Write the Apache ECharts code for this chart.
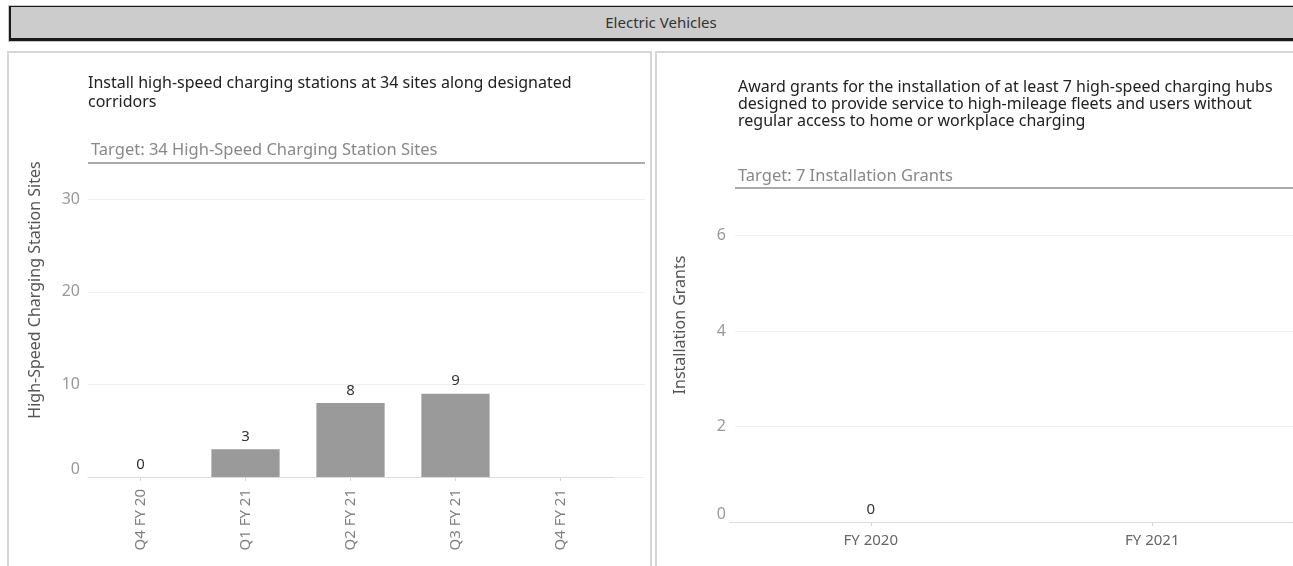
<!DOCTYPE html>
<html>
<head>
    <meta http-equiv="Content-Type" content="text/html; charset=utf-8">
    <title>Electric Vehicles</title>
    <script src="https://cdn.jsdelivr.net/npm/echarts@6/dist/echarts.min.js"></script>
    <style>
        body {margin:0; width:1293px; height:566px; overflow:hidden; background:#fff; font-family:'Noto Sans', sans-serif;}
        .header {position:absolute; left:9px; top:6px; width:1300px; height:31px; background:#cccccc;
                 border:2px solid #1a1a1a; border-top-width:1px; border-bottom-width:3px; box-shadow:0 0 0 1px #c8c8c8;
                 text-align:center; line-height:31px; font-size:15px; color:#333;}
        .panel {position:absolute; top:51px; height:530px; border:2px solid #d6d6d6; box-sizing:border-box;}
        #main {position:absolute; left:0; top:0; width:1293px; height:566px;}
    </style>
</head>
<body>
    <div class="header">Electric Vehicles</div>
    <div class="panel" style="left:7px; width:645px;"></div>
    <div class="panel" style="left:655px; width:700px;"></div>
    <div id="main"></div>
    <script type="text/javascript">
        // left chart data
        var siteQuarters = ['Q4 FY 20', 'Q1 FY 21', 'Q2 FY 21', 'Q3 FY 21', 'Q4 FY 21'];
        var siteCounts = [0, 3, 8, 9, null];
        var siteTarget = 34;

        // right chart data
        var grantYears = ['FY 2020', 'FY 2021'];
        var grantCounts = [0, null];
        var grantTarget = 7;

        var font = 'Noto Sans';
        var myChart = echarts.init(document.getElementById('main'));

        function targetLine(value, text) {
            return {
                silent: true,
                symbol: 'none',
                lineStyle: {color: '#aaaaaa', width: 2, type: 'solid'},
                label: {position: 'insideStartTop', formatter: text, color: '#888', fontSize: 16.5, fontFamily: font, distance: 3},
                data: [{yAxis: value}]
            };
        }

        var dottedAxis = {show: true, lineStyle: {color: '#d8d8d8', type: 'dotted'}};

        var option = {
            animation: false,
            title: [
                {text: 'Install high-speed charging stations at 34 sites along designated\ncorridors',
                 left: 83, top: 69,
                 textStyle: {fontSize: 16, fontWeight: 'normal', color: '#222', fontFamily: font, lineHeight: 19}},
                {text: 'Award grants for the installation of at least 7 high-speed charging hubs\ndesigned to provide service to high-mileage fleets and users without\nregular access to home or workplace charging',
                 left: 733, top: 74,
                 textStyle: {fontSize: 16, fontWeight: 'normal', color: '#222', fontFamily: font, lineHeight: 17}}
            ],
            grid: [
                {left: 88, top: 153, width: 557, height: 324},
                {left: 88, top: 153, width: 525, height: 324},
                {left: 735, top: 188, width: 600, height: 334},
                {left: 730, top: 188, width: 574, height: 334}
            ],
            xAxis: [
                {gridIndex: 0, type: 'category', data: [''], show: false},
                {gridIndex: 1, type: 'category', data: siteQuarters,
                 axisLine: dottedAxis,
                 axisTick: {show: true, alignWithLabel: true, length: 4, lineStyle: {color: '#d8d8d8'}},
                 axisLabel: {rotate: 90, color: '#808080', fontSize: 15, fontFamily: font, margin: 12}},
                {gridIndex: 2, type: 'category', data: [''], show: false},
                {gridIndex: 3, type: 'category', data: grantYears,
                 axisLine: dottedAxis,
                 axisTick: {show: true, alignWithLabel: true, length: 4, lineStyle: {color: '#d8d8d8'}},
                 axisLabel: {color: '#666', fontSize: 15, fontFamily: font, margin: 11}}
            ],
            yAxis: [
                {gridIndex: 0, type: 'value', min: 0, max: 35, interval: 10,
                 name: 'High-Speed Charging Station Sites', nameLocation: 'middle', nameGap: 45,
                 nameTextStyle: {color: '#555', fontSize: 16, fontFamily: font, padding: [0, 0, 0, 50]},
                 axisLine: {show: false}, axisTick: {show: false},
                 axisLabel: {color: '#999', fontSize: 16, fontFamily: font, margin: 8, showMaxLabel: false,
                             verticalAlignMinLabel: 'bottom'},
                 splitLine: {lineStyle: {color: '#efefef'}, showMaxLine: false}},
                {gridIndex: 1, type: 'value', min: 0, max: 35, show: false, splitLine: {show: false}},
                {gridIndex: 2, type: 'value', min: 0, max: 7, interval: 2,
                 name: 'Installation Grants', nameLocation: 'middle', nameGap: 47,
                 nameTextStyle: {color: '#555', fontSize: 16, fontFamily: font, padding: [0, 0, 0, 60]},
                 axisLine: {show: false}, axisTick: {show: false},
                 axisLabel: {color: '#999', fontSize: 16, fontFamily: font, margin: 9, showMaxLabel: false,
                             verticalAlignMinLabel: 'bottom'},
                 splitLine: {lineStyle: {color: '#efefef'}, showMaxLine: false}},
                {gridIndex: 3, type: 'value', min: 0, max: 7, show: false, splitLine: {show: false}}
            ],
            series: [
                {type: 'line', xAxisIndex: 0, yAxisIndex: 0, data: [],
                 markLine: targetLine(siteTarget, 'Target: 34 High-Speed Charging Station Sites')},
                {type: 'bar', xAxisIndex: 1, yAxisIndex: 1, data: siteCounts, barWidth: '65%',
                 itemStyle: {color: '#9a9a9a'},
                 label: {show: true, position: 'top', color: '#333', fontSize: 15, fontFamily: font}},
                {type: 'line', xAxisIndex: 2, yAxisIndex: 2, data: [],
                 markLine: targetLine(grantTarget, 'Target: 7 Installation Grants')},
                {type: 'bar', xAxisIndex: 3, yAxisIndex: 3, data: grantCounts, barWidth: '65%',
                 itemStyle: {color: '#9a9a9a'},
                 label: {show: true, position: 'top', color: '#333', fontSize: 15, fontFamily: font}}
            ]
        };

        myChart.setOption(option);
    </script>
</body>
</html>
